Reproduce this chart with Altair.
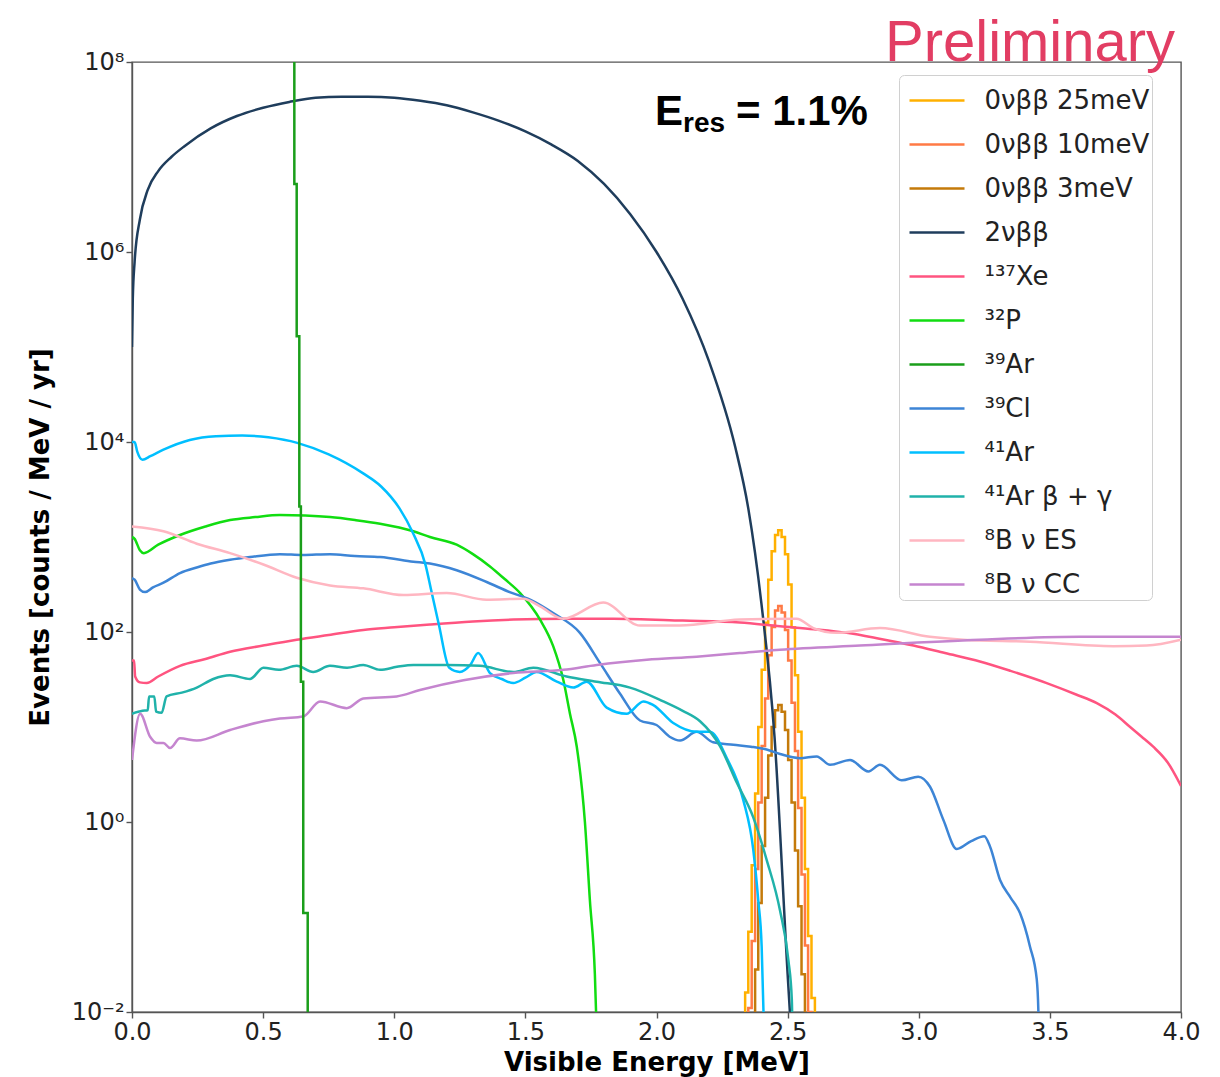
import altair as alt
import pandas as pd

# ---------------- series names and colours ----------------
SERIES = ["0νββ 25meV", "0νββ 10meV", "0νββ 3meV", "2νββ", "¹³⁷Xe", "³²P",
          "³⁹Ar", "³⁹Cl", "⁴¹Ar", "⁴¹Ar β + γ", "⁸B ν ES", "⁸B ν CC"]
COLORS = ["#FFB000", "#FF7A45", "#C47A0A", "#1F3D5C", "#FF5480", "#11DD11",
          "#1A9E1A", "#3D85D6", "#00BFFF", "#20B2AA", "#FFB6C1", "#C585CF"]

# ---------------- 0νββ peaks (histogram: bin left edges, last value closes) ----------------
peak_edges = [2.325, 2.338, 2.350, 2.363, 2.376, 2.388, 2.401, 2.414, 2.426, 2.439, 2.452, 2.464,
              2.477, 2.490, 2.502, 2.515, 2.528, 2.540, 2.553, 2.566, 2.578, 2.591, 2.604, 2.616]
peak_25mev = [2.5e-3, 1.6e-2, 7.0e-2, 0.35, 2.0, 10, 40, 125, 355, 710, 1050, 1175,
              1000, 660, 316, 112, 35, 8.9, 1.8, 0.32, 6.3e-2, 1.4e-2, 2.5e-3, 1e-5]
peak_10mev = [4e-4, 2.6e-3, 1.1e-2, 5.6e-2, 0.32, 1.6, 6.3, 20, 57, 113, 168, 188,
              160, 105, 50, 18, 5.6, 1.4, 0.28, 5.0e-2, 1.0e-2, 2.2e-3, 4e-4, 1e-5]
peak_3mev = [3.5e-5, 2.2e-4, 1.0e-3, 5.0e-3, 2.8e-2, 0.14, 0.56, 1.8, 5.0, 10, 15, 17,
             14.5, 9.3, 4.5, 1.6, 0.5, 0.13, 2.5e-2, 4.5e-3, 9e-4, 2e-4, 3.5e-5, 1e-5]

# ---------------- 39Ar (histogram edges) ----------------
ar39_edges = [0.600, 0.619, 0.628, 0.638, 0.644, 0.653, 0.670]
ar39_vals = [3e8, 5.2e6, 1.3e5, 2.1e3, 30, 0.11, 1e-5]

# ---------------- smooth spectra ----------------
two_nu_e = [0.0, 0.003, 0.01, 0.03, 0.06, 0.1, 0.15, 0.2, 0.3, 0.4, 0.5, 0.6, 0.7, 0.8, 0.9,
            1.0, 1.1, 1.2, 1.3, 1.4, 1.5, 1.6, 1.7, 1.8, 1.9, 2.0, 2.1, 2.2, 2.3, 2.35,
            2.4, 2.45, 2.5, 2.52]
two_nu_v = [1.0e5, 3.2e5, 7.9e5, 2.2e6, 4.5e6, 7.1e6, 1.0e7, 1.3e7, 2.0e7, 2.7e7, 3.3e7,
            3.8e7, 4.2e7, 4.3e7, 4.3e7, 4.2e7, 3.9e7, 3.5e7, 2.95e7, 2.4e7, 1.86e7, 1.35e7,
            9.1e6, 5.2e6, 2.5e6, 1.0e6, 3.2e5, 7.1e4, 8.9e3, 2.0e3, 200, 7.9, 0.025, 0.003]

xe137_e = [0.0, 0.008, 0.012, 0.03, 0.056, 0.1, 0.183, 0.28, 0.374, 0.5, 0.628, 0.75, 0.882,
           1.0, 1.136, 1.3, 1.454, 1.65, 1.835, 2.1, 2.318, 2.471, 2.6, 2.725, 2.85, 2.98,
           3.1, 3.233, 3.35, 3.488, 3.6, 3.679, 3.75, 3.806, 3.85, 3.894, 3.95, 4.0]
xe137_v = [50, 50, 34, 29.5, 29, 34, 44, 52, 62, 72, 83, 93, 105, 112, 120, 129, 135, 138,
           138, 132, 126, 115, 107, 98, 85, 72, 60, 49, 39, 29, 22, 17.8, 13.5, 10, 7.9, 6.2,
           4.2, 2.4]

p32_e = [0.0, 0.01, 0.03, 0.045, 0.1, 0.183, 0.28, 0.374, 0.47, 0.564, 0.66, 0.755, 0.85,
         0.946, 1.073, 1.136, 1.238, 1.3, 1.365, 1.42, 1.48, 1.556, 1.606, 1.645, 1.67,
         1.696, 1.727, 1.746, 1.765, 1.773]
p32_v = [1000, 955, 725, 676, 830, 1050, 1290, 1510, 1620, 1700, 1680, 1620, 1510, 1380,
         1150, 1000, 830, 660, 490, 363, 257, 135, 71, 31, 13.8, 6.2, 1.0, 0.15, 0.025, 0.005]

cl39_e = [0.0, 0.01, 0.03, 0.05, 0.08, 0.12, 0.183, 0.25, 0.3, 0.374, 0.45, 0.564, 0.65,
          0.755, 0.85, 0.946, 1.073, 1.136, 1.238, 1.365, 1.44, 1.518, 1.606, 1.708, 1.785,
          1.861, 1.937, 2.0, 2.05, 2.09, 2.153, 2.216, 2.293, 2.36, 2.42, 2.471, 2.547,
          2.611, 2.662, 2.738, 2.808, 2.852, 2.935, 2.998, 3.043, 3.094, 3.145, 3.2, 3.25,
          3.272, 3.31, 3.35, 3.386, 3.424, 3.45, 3.456, 3.46]
cl39_v = [370, 355, 280, 263, 295, 330, 417, 480, 525, 575, 615, 660, 645, 660, 630, 615,
          550, 525, 447, 324, 263, 219, 158, 98, 47, 22.4, 11.7, 10.5, 7.9, 7.2, 8.9, 6.9,
          6.5, 6.2, 5.8, 5.2, 4.7, 4.9, 4.0, 4.5, 3.4, 4.0, 2.75, 3.0, 2.35, 1.05, 0.52,
          0.63, 0.71, 0.55, 0.245, 0.16, 0.11, 0.049, 0.022, 0.0105, 0.003]

ar41_e = [0.0, 0.01, 0.02, 0.04, 0.07, 0.12, 0.22, 0.32, 0.42, 0.52, 0.63, 0.75, 0.88, 0.95,
          1.02, 1.07, 1.12, 1.14, 1.17, 1.21, 1.25, 1.29, 1.32, 1.365, 1.41, 1.454, 1.5,
          1.543, 1.62, 1.683, 1.734, 1.81, 1.886, 1.95, 1.988, 2.064, 2.153, 2.204, 2.268,
          2.331, 2.369, 2.388, 2.401, 2.41]
ar41_v = [1.0e4, 1.0e4, 7.9e3, 6.5e3, 7.1e3, 8.3e3, 1.05e4, 1.15e4, 1.17e4, 1.12e4, 9.8e3,
          7.4e3, 4.7e3, 3.4e3, 2.0e3, 1.12e3, 500, 282, 120, 42, 38, 45, 60, 37, 32, 29, 33,
          38, 30, 26, 30, 16, 13.8, 18.6, 17, 11, 8.9, 8.9, 4.7, 1.7, 0.51, 0.15, 0.049, 0.0063]

ar41bg_e = [0.0, 0.04, 0.06, 0.065, 0.085, 0.092, 0.113, 0.132, 0.19, 0.247, 0.31, 0.374,
            0.45, 0.501, 0.56, 0.628, 0.691, 0.755, 0.82, 0.882, 0.946, 1.01, 1.073, 1.2,
            1.327, 1.454, 1.53, 1.657, 1.772, 1.899, 2.026, 2.1, 2.166, 2.242, 2.306, 2.369,
            2.42, 2.471, 2.503, 2.516, 2.52]
ar41bg_v = [13.8, 14.8, 15, 21, 21, 14.5, 14.1, 21, 23, 26, 32, 35, 32, 42, 40, 44, 38, 44,
            42, 45, 40, 43, 45, 45, 44, 38, 42, 34, 30, 26, 18.6, 14.8, 11.5, 6.3, 2.6, 1.12,
            0.4, 0.117, 0.035, 0.0135, 0.003]

b8es_e = [0.0, 0.12, 0.247, 0.374, 0.501, 0.628, 0.755, 0.882, 1.035, 1.2, 1.352, 1.492,
          1.556, 1.645, 1.797, 1.937, 2.09, 2.318, 2.534, 2.598, 2.687, 2.852, 3.043, 3.17,
          3.424, 3.742, 3.869, 4.0]
b8es_v = [1290, 1150, 850, 676, 513, 372, 309, 288, 245, 257, 219, 224, 186, 138, 204, 117,
          117, 135, 138, 110, 98, 110, 89, 83, 79, 71, 72, 83]

b8cc_e = [0.0, 0.031, 0.069, 0.094, 0.12, 0.145, 0.183, 0.247, 0.374, 0.501, 0.564, 0.653,
          0.717, 0.819, 0.882, 1.009, 1.098, 1.264, 1.454, 1.645, 1.772, 1.963, 2.153, 2.318,
          2.471, 2.776, 3.233, 3.615, 4.0]
b8cc_v = [4.5, 13.8, 7.9, 6.8, 6.8, 6.0, 7.6, 7.2, 9.3, 11.5, 12.3, 12.9, 18.6, 15.8, 20, 21,
          24.5, 31, 37, 40, 45, 51, 55, 60, 65, 72, 83, 89, 89]

Y_TICKS = [1e-2, 1, 1e2, 1e4, 1e6, 1e8]
X_TICKS = [0.0, 0.5, 1.0, 1.5, 2.0, 2.5, 3.0, 3.5, 4.0]


def frame(name, es, vs):
    return pd.DataFrame({"E": es, "v": vs, "series": name})


peaks_df = pd.concat([frame(SERIES[0], peak_edges, peak_25mev),
                      frame(SERIES[1], peak_edges, peak_10mev),
                      frame(SERIES[2], peak_edges, peak_3mev)], ignore_index=True)
smooth_df = pd.concat([frame(SERIES[3], two_nu_e, two_nu_v),
                       frame(SERIES[4], xe137_e, xe137_v),
                       frame(SERIES[5], p32_e, p32_v),
                       frame(SERIES[7], cl39_e, cl39_v),
                       frame(SERIES[8], ar41_e, ar41_v),
                       frame(SERIES[9], ar41bg_e, ar41bg_v),
                       frame(SERIES[10], b8es_e, b8es_v),
                       frame(SERIES[11], b8cc_e, b8cc_v)], ignore_index=True)
ar39_df = frame(SERIES[6], ar39_edges, ar39_vals)

FONT = "DejaVu Sans"

x_enc = alt.X("E:Q",
              scale=alt.Scale(domain=[0, 4], nice=False, zero=False),
              axis=alt.Axis(values=X_TICKS, format=".1f", title="Visible Energy [MeV]",
                            labelFlush=False, labelOverlap=False, grid=False))
y_label_expr = ("datum.value == 1e8 ? '10⁸' : datum.value == 1e6 ? '10⁶' : "
                "datum.value == 1e4 ? '10⁴' : datum.value == 100 ? '10²' : "
                "datum.value == 1 ? '10⁰' : '10⁻²'")
y_enc = alt.Y("v:Q",
              scale=alt.Scale(type="log", domain=[1e-2, 1e8], nice=False),
              axis=alt.Axis(values=Y_TICKS, labelExpr=y_label_expr,
                            title="Events [counts / MeV / yr]",
                            labelFlush=False, labelOverlap=False, grid=False))
legend = alt.Legend(title=None, orient="none", legendX=767, legendY=13,
                    symbolType="M-1.25,0L1.25,0", symbolSize=1936, symbolStrokeWidth=2.5,
                    symbolOffset=12.5, labelOffset=24,
                    labelFont=FONT, labelFontSize=26, labelColor="#222222", labelLimit=400,
                    rowPadding=7, padding=2, fillColor="white", strokeColor="#d0d0d0",
                    cornerRadius=5)
c_enc = alt.Color("series:N", scale=alt.Scale(domain=SERIES, range=COLORS), legend=legend)

peaks = alt.Chart(peaks_df).mark_line(interpolate="step-after", strokeWidth=2.5, clip=True).encode(
    x=x_enc, y=y_enc, color=c_enc)
smooth = alt.Chart(smooth_df).mark_line(interpolate="monotone", strokeWidth=2.5, clip=True).encode(
    x=x_enc, y=y_enc, color=c_enc)
ar39 = alt.Chart(ar39_df).mark_line(interpolate="step-after", strokeWidth=2.5, clip=True).encode(
    x=x_enc, y=y_enc, color=c_enc)

prelim = alt.Chart(pd.DataFrame({"t": ["Preliminary"]})).mark_text(
    font="Liberation Sans", fontSize=58, color="#E23D63", align="left", baseline="alphabetic"
).encode(x=alt.value(753), y=alt.value(-1), text="t:N")
e_big = alt.Chart(pd.DataFrame({"t": ["E"]})).mark_text(
    font="Liberation Sans", fontSize=42, fontWeight="bold", color="black", align="left",
    baseline="alphabetic").encode(x=alt.value(523), y=alt.value(63), text="t:N")
e_sub = alt.Chart(pd.DataFrame({"t": ["res"]})).mark_text(
    font="Liberation Sans", fontSize=28, fontWeight="bold", color="black", align="left",
    baseline="alphabetic").encode(x=alt.value(551), y=alt.value(70), text="t:N")
e_rest = alt.Chart(pd.DataFrame({"t": ["= 1.1%"]})).mark_text(
    font="Liberation Sans", fontSize=42, fontWeight="bold", color="black", align="left",
    baseline="alphabetic").encode(x=alt.value(604), y=alt.value(63), text="t:N")

chart = alt.layer(peaks, smooth, ar39, prelim, e_big, e_sub, e_rest).properties(
    width=1049, height=950,
    autosize=alt.AutoSizeParams(type="none"),
    padding={"left": 124, "top": 54, "right": 22, "bottom": 66},
).configure_axis(
    labelFont=FONT, labelFontSize=24, labelColor="#222222",
    titleFont=FONT, titleFontSize=26, titleFontWeight="bold", titleColor="black",
    domainColor="#555555", domainWidth=1.4, tickColor="#555555", tickWidth=1.4, tickSize=6,
    labelPadding=2,
).configure_axisX(titlePadding=5).configure_axisY(titlePadding=18).configure_view(
    stroke="#555555", strokeWidth=1.4
)

chart.save("out.html", embed_options={"renderer": "svg", "actions": False})
